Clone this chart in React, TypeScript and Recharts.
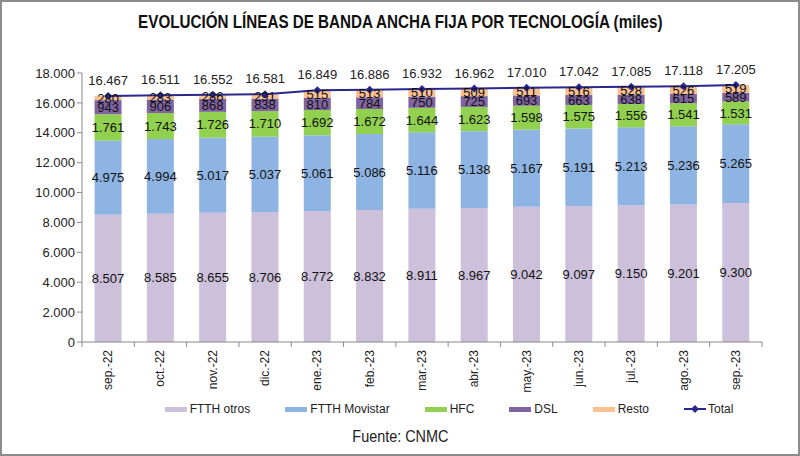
import React from 'react';
import {
  ComposedChart,
  Bar,
  Line,
  XAxis,
  YAxis,
  Legend,
  LabelList,
} from 'recharts';

const months = ['sep.-22', 'oct.-22', 'nov.-22', 'dic.-22', 'ene.-23', 'feb.-23', 'mar.-23', 'abr.-23', 'may.-23', 'jun.-23', 'jul.-23', 'ago.-23', 'sep.-23'];
const ftthOtros = [8507, 8585, 8655, 8706, 8772, 8832, 8911, 8967, 9042, 9097, 9150, 9201, 9300];
const ftthMovistar = [4975, 4994, 5017, 5037, 5061, 5086, 5116, 5138, 5167, 5191, 5213, 5236, 5265];
const hfc = [1761, 1743, 1726, 1710, 1692, 1672, 1644, 1623, 1598, 1575, 1556, 1541, 1531];
const dsl = [943, 906, 868, 838, 810, 784, 750, 725, 693, 663, 638, 615, 589];
const resto = [280, 283, 286, 291, 515, 513, 510, 509, 511, 516, 528, 526, 519];
const total = [16467, 16511, 16552, 16581, 16849, 16886, 16932, 16962, 17010, 17042, 17085, 17118, 17205];
const yTicks = [0, 2000, 4000, 6000, 8000, 10000, 12000, 14000, 16000, 18000];

const data = months.map((m, i) => ({
  month: m,
  ftthOtros: ftthOtros[i],
  ftthMovistar: ftthMovistar[i],
  hfc: hfc[i],
  dsl: dsl[i],
  resto: resto[i],
  total: total[i],
}));

const series = [
  { key: 'ftthOtros', name: 'FTTH otros', color: '#ccc0da' },
  { key: 'ftthMovistar', name: 'FTTH Movistar', color: '#8db4e2' },
  { key: 'hfc', name: 'HFC', color: '#92d050' },
  { key: 'dsl', name: 'DSL', color: '#8064a2' },
  { key: 'resto', name: 'Resto', color: '#fac090' },
];

const LINE_COLOR = '#2a278f';
const FONT = '"Liberation Sans", Arial, sans-serif';

const fmt = (v: unknown) => String(v ?? '').replace(/\B(?=(\d{3})+(?!\d))/g, '.');

function XTick(props: any) {
  const { x, y, payload, index } = props;
  const half = payload?.offset ?? 0;
  return (
    <g>
      <line x1={x - half} x2={x - half} y1={y - 8} y2={y - 3} stroke="#888" />
      {index === months.length - 1 && (
        <line x1={x + half} x2={x + half} y1={y - 8} y2={y - 3} stroke="#888" />
      )}
      <text
        x={x}
        y={y}
        transform={`rotate(-90, ${x}, ${y})`}
        textAnchor="end"
        dominantBaseline="central"
        fontSize={12}
        fill="#222"
        fontFamily={FONT}
      >
        {payload.value}
      </text>
    </g>
  );
}

function Diamond(props: any) {
  const { cx, cy } = props;
  if (cx == null || cy == null) return null;
  const r = 4;
  return (
    <polygon
      points={`${cx},${cy - r} ${cx + r},${cy} ${cx},${cy + r} ${cx - r},${cy}`}
      fill={LINE_COLOR}
    />
  );
}

function LegendContent() {
  return (
    <div
      style={{
        display: 'flex',
        justifyContent: 'center',
        gap: 35,
        fontFamily: FONT,
        fontSize: 12,
        color: '#222',
        paddingLeft: 116,
      }}
    >
      {series.map((s) => (
        <div key={s.key} style={{ display: 'flex', alignItems: 'center', gap: 3 }}>
          <span style={{ width: 22, height: 5, background: s.color, display: 'inline-block' }} />
          <span>{s.name}</span>
        </div>
      ))}
      <div style={{ display: 'flex', alignItems: 'center', gap: 2 }}>
        <svg width={22} height={10}>
          <line x1={0} x2={22} y1={5} y2={5} stroke={LINE_COLOR} strokeWidth={2} />
          <polygon points="11,1 15,5 11,9 7,5" fill={LINE_COLOR} />
        </svg>
        <span>Total</span>
      </div>
    </div>
  );
}

export default function App() {
  return (
    <div
      style={{
        position: 'absolute',
        left: 0,
        top: 0,
        width: 800,
        height: 456,
        background: '#fff',
        fontFamily: FONT,
      }}
    >
      <div
        style={{
          position: 'absolute',
          top: 12,
          left: 0,
          width: 800,
          textAlign: 'center',
        }}
      >
        <span
          style={{
            display: 'inline-block',
            transform: 'scaleX(0.845)',
            fontWeight: 'bold',
            fontSize: 18,
            color: '#111',
          }}
        >
          EVOLUCIÓN LÍNEAS DE BANDA ANCHA FIJA POR TECNOLOGÍA (miles)
        </span>
      </div>
      <ComposedChart
        width={800}
        height={456}
        data={data}
        margin={{ top: 73, right: 38, left: 20, bottom: 34 }}
        barCategoryGap="24%"
      >
        <XAxis
          dataKey="month"
          stroke="#888"
          tickLine={false}
          height={60}
          interval={0}
          tick={<XTick />}
        />
        <YAxis
          width={62}
          domain={[0, 18000]}
          ticks={yTicks}
          stroke="#888"
          tickSize={5}
          tick={{ fill: '#222', fontSize: 13, fontFamily: FONT }}
          tickFormatter={(v) => fmt(v)}
        />
        <Legend verticalAlign="bottom" height={20} content={<LegendContent />} />
        {series.map((s) => (
          <Bar
            key={s.key}
            dataKey={s.key}
            name={s.name}
            stackId="a"
            fill={s.color}
            isAnimationActive={false}
          >
            <LabelList
              dataKey={s.key}
              position="center"
              formatter={fmt}
              fill="#111"
              fontSize={13}
              fontFamily={FONT}
            />
          </Bar>
        ))}
        <Line
          dataKey="total"
          name="Total"
          stroke={LINE_COLOR}
          strokeWidth={2}
          dot={<Diamond />}
          activeDot={false}
          isAnimationActive={false}
        >
          <LabelList
            dataKey="total"
            position="top"
            offset={11}
            formatter={fmt}
            fill="#222"
            fontSize={13}
            fontFamily={FONT}
          />
        </Line>
      </ComposedChart>
      <div
        style={{
          position: 'absolute',
          top: 428,
          left: 0,
          width: 800,
          textAlign: 'center',
        }}
      >
        <span
          style={{
            display: 'inline-block',
            transform: 'scaleX(0.9)',
            fontSize: 16,
            color: '#222',
          }}
        >
          Fuente: CNMC
        </span>
      </div>
      <div
        style={{
          position: 'absolute',
          left: 0,
          top: 0,
          width: 800,
          height: 456,
          border: '2px solid #8c8c8c',
          boxSizing: 'border-box',
          pointerEvents: 'none',
        }}
      />
    </div>
  );
}
